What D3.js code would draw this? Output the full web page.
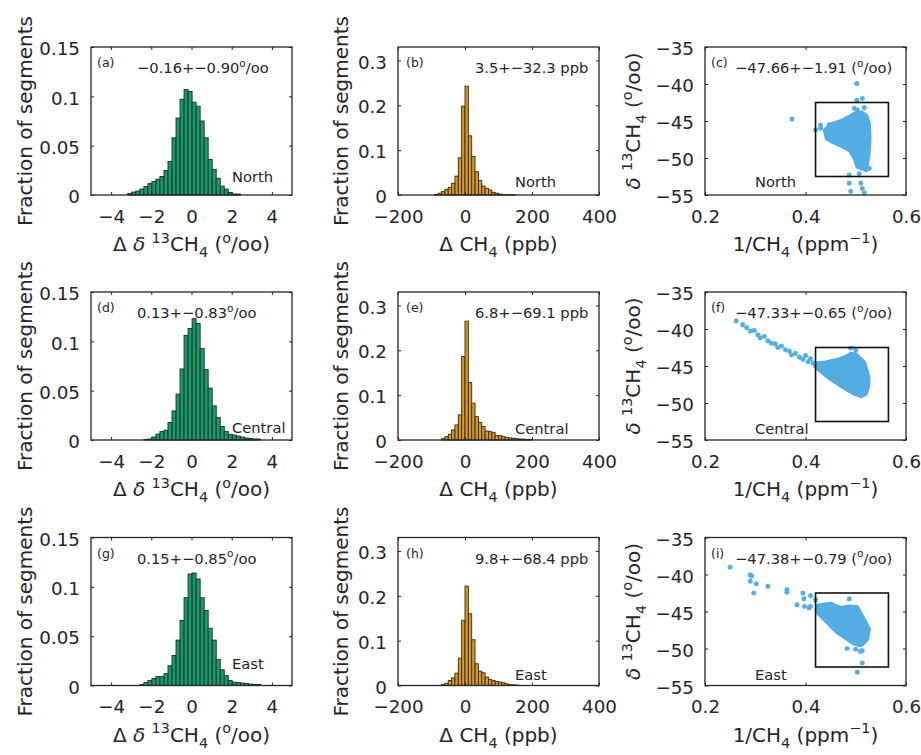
<!DOCTYPE html>
<html>
<head>
<meta charset="utf-8">
<script src="https://cdn.jsdelivr.net/npm/d3@7"></script>
<style>
  body { margin: 0; background: #fff; }
  svg text { font-family: "DejaVu Sans", sans-serif; fill: #262626; }
</style>
</head>
<body>
<svg id="fig" width="921" height="755"></svg>
<script>
// Δδ13CH4 histograms (per mil), bin width 0.2
const isoBinWidth = 0.2;
const isoNorthStart = -3.17;
const isoNorth = [0.0017, 0.003, 0.004, 0.006, 0.0085, 0.0115, 0.0136, 0.016, 0.0187, 0.0248,
  0.034, 0.058, 0.078, 0.097, 0.107, 0.105, 0.094, 0.090, 0.075, 0.058,
  0.036, 0.026, 0.017, 0.009, 0.006, 0.0025, 0.001, 0.001];
const isoCentralStart = -2.37;
const isoCentral = [0.0005, 0.001, 0.003, 0.006, 0.0085, 0.010, 0.0177, 0.0295, 0.0465, 0.072,
  0.106, 0.113, 0.123, 0.118, 0.0927, 0.0713, 0.0526, 0.0346, 0.0227, 0.0136,
  0.0085, 0.0058, 0.005, 0.004, 0.003, 0.002, 0.0015, 0.001, 0.001];
const isoEastStart = -2.57;
const isoEast = [0.001, 0.003, 0.005, 0.007, 0.009, 0.009, 0.012, 0.020, 0.0305, 0.046,
  0.066, 0.089, 0.113, 0.114, 0.108, 0.089, 0.076, 0.058, 0.046, 0.0265,
  0.016, 0.010, 0.005, 0.0034, 0.003, 0.0025, 0.002, 0.0015, 0.001, 0.001];

// ΔCH4 histograms (ppb), bin width 10
const ch4BinWidth = 10;
const ch4NorthStart = -90;
const ch4North = [0.0015, 0.004, 0.0075, 0.0127, 0.017, 0.026, 0.042, 0.083, 0.198, 0.2425,
  0.132, 0.0858, 0.052, 0.032, 0.020, 0.015, 0.011, 0.006, 0.004, 0.002,
  0.001, 0.0005, 0.001, 0.001];
const ch4CentralStart = -70;
const ch4Central = [0.003, 0.0075, 0.0127, 0.0224, 0.0336, 0.056, 0.186, 0.265, 0.128, 0.082,
  0.052, 0.039, 0.030, 0.020, 0.0186, 0.0164, 0.0097, 0.0097, 0.0075, 0.006,
  0.0045, 0.004, 0.003, 0.002, 0.002, 0.001, 0.001];
const ch4EastStart = -70;
const ch4East = [0.002, 0.005, 0.011, 0.017, 0.0276, 0.061, 0.1455, 0.2216, 0.160, 0.102,
  0.0485, 0.032, 0.0284, 0.0187, 0.0134, 0.011, 0.009, 0.0075, 0.006, 0.0037,
  0.002, 0.0015, 0.001];

// Keeling plots: dense cloud outline + scattered points, [1/CH4, δ13CH4]
const cloudNorth = [[0.438,-46.2],[0.452,-45.4],[0.47,-45.0],[0.487,-44.4],[0.500,-43.9],[0.512,-43.8],
  [0.522,-44.3],[0.527,-45.5],[0.528,-47.5],[0.526,-49.5],[0.522,-51.2],[0.514,-51.5],[0.503,-51.2],
  [0.497,-50.0],[0.488,-49.0],[0.472,-48.4],[0.455,-47.9],[0.442,-47.4]];
const pointsNorth = [[0.373,-44.75],[0.42,-46.2],[0.43,-45.56],[0.447,-45.5],[0.445,-47.1],[0.502,-39.94],
  [0.502,-42.2],[0.513,-41.96],[0.497,-43.3],[0.517,-43.2],[0.487,-52.3],[0.487,-53.4],[0.49,-54.5],
  [0.507,-52.1],[0.51,-53.4],[0.513,-54.1],[0.517,-54.7],[0.483,-44.9],[0.503,-43.5],[0.43,-46.0],
  [0.52,-51.6],[0.527,-51.4]];
const cloudCentral = [[0.422,-44.6],[0.44,-44.5],[0.46,-44.2],[0.478,-43.8],[0.49,-43.3],[0.50,-43.4],
  [0.508,-43.9],[0.517,-44.5],[0.522,-45.5],[0.526,-46.6],[0.525,-47.8],[0.52,-48.8],[0.511,-49.1],
  [0.498,-48.8],[0.485,-48.3],[0.468,-47.6],[0.45,-46.8],[0.435,-46.0],[0.424,-45.4]];
const pointsCentral = [[0.262,-38.9],[0.275,-39.4],[0.283,-39.8],[0.29,-40.3],[0.298,-40.2],[0.305,-40.8],
  [0.31,-41.2],[0.318,-41.0],[0.325,-41.6],[0.332,-41.9],[0.34,-42.0],[0.345,-42.5],[0.352,-42.3],
  [0.36,-42.8],[0.368,-43.0],[0.372,-43.5],[0.38,-43.3],[0.388,-43.8],[0.395,-44.1],[0.40,-43.6],
  [0.405,-44.4],[0.41,-44.0],[0.415,-44.6],[0.42,-45.0],[0.49,-42.6],[0.50,-42.9]];
const cloudEast = [[0.423,-44.2],[0.45,-43.9],[0.47,-44.5],[0.487,-44.3],[0.503,-44.4],[0.517,-46.1],
  [0.527,-47.4],[0.523,-48.75],[0.517,-49.2],[0.51,-49.6],[0.497,-49.4],[0.483,-48.75],[0.463,-47.85],
  [0.45,-46.97],[0.437,-46.07],[0.423,-45.17]];
const pointsEast = [[0.25,-39.0],[0.29,-40.05],[0.293,-40.2],[0.29,-40.9],[0.302,-41.25],[0.297,-42.5],
  [0.325,-41.6],[0.363,-42.05],[0.363,-42.4],[0.395,-42.5],[0.397,-43.26],[0.41,-42.85],[0.383,-44.06],
  [0.398,-44.3],[0.407,-44.5],[0.42,-43.4],[0.487,-43.3],[0.483,-50.0],[0.5,-50.1],[0.513,-50.3],
  [0.513,-51.96],[0.503,-53.2],[0.509,-50.4],[0.41,-44.3]];
const boxX = [0.42, 0.565];
const boxY = [-52.5, -42.5];

// ticks
const isoXTicks = [-4, -2, 0, 2, 4], isoYTicks = [0, 0.05, 0.1, 0.15];
const ch4XTicks = [-200, 0, 200, 400], ch4YTicks = [0, 0.1, 0.2, 0.3];
const kXTicks = [0.2, 0.4, 0.6], kYTicks = [-55, -50, -45, -40, -35];

const regions = ["North", "Central", "East"];
const isoStats = ["\u22120.16+\u22120.90", "0.13+\u22120.83", "0.15+\u22120.85"];
const ch4Stats = ["3.5+\u221232.3 ppb", "6.8+\u221269.1 ppb", "9.8+\u221268.4 ppb"];
const kStats = ["\u221247.66+\u22121.91 (", "\u221247.33+\u22120.65 (", "\u221247.38+\u22120.79 ("];

// layout
const colX = [91, 398, 705], rowY = [47, 292, 537.5];
const W = 201, H = 148;
const ink = "#262626";
const svg = d3.select("#fig");
svg.append("rect").attr("width", 921).attr("height", 755).attr("fill", "#fff");

// text with sup/sub parts: [[text, "sup"|"sub"|"it"|undefined], ...]
function rich(sel, parts, size) {
  let shift = 0;
  parts.forEach(([t, kind]) => {
    const small = kind === "sup" || kind === "sub";
    const target = kind === "sup" ? -size * 0.42 : kind === "sub" ? size * 0.3 : 0;
    sel.append("tspan")
      .attr("dy", target - shift)
      .attr("font-size", small ? size * 0.72 : size)
      .attr("font-style", kind === "it" ? "italic" : null)
      .text(t);
    shift = target;
  });
  return sel;
}

const fmt = d => String(d).replace("-", "\u2212");

function drawAxes(g, x, y, xTicks, yTicks) {
  const style = a => a.attr("font-size", 18.3).attr("font-family", "DejaVu Sans").attr("color", ink)
    .call(s => s.select(".domain").remove());
  g.append("g").attr("transform", `translate(0,${H})`)
    .call(d3.axisBottom(x).tickValues(xTicks).tickFormat(fmt).tickSizeInner(-3).tickSizeOuter(0).tickPadding(15))
    .call(style);
  g.append("g")
    .call(d3.axisTop(x).tickValues(xTicks).tickFormat("").tickSizeInner(-3).tickSizeOuter(0))
    .call(style);
  g.append("g")
    .call(d3.axisLeft(y).tickValues(yTicks).tickFormat(fmt).tickSizeInner(-3).tickSizeOuter(0).tickPadding(11))
    .call(style)
    .selectAll("text").attr("dy", "0.42em");
  g.append("g").attr("transform", `translate(${W},0)`)
    .call(d3.axisRight(y).tickValues(yTicks).tickFormat("").tickSizeInner(-3).tickSizeOuter(0))
    .call(style);
  g.append("rect").attr("width", W).attr("height", H)
    .attr("fill", "none").attr("stroke", ink).attr("stroke-width", 1.3);
}

function drawHist(g, x, y, start, width, values, fill, edge) {
  const bins = values.map((v, i) => ({ x0: start + i * width, x1: start + (i + 1) * width, v }));
  g.append("g").selectAll("rect").data(bins).join("rect")
    .attr("x", d => x(d.x0))
    .attr("width", d => x(d.x1) - x(d.x0))
    .attr("y", d => y(d.v))
    .attr("height", d => y(0) - y(d.v))
    .attr("fill", fill)
    .attr("stroke", edge)
    .attr("stroke-width", 0.9);
}

const scatterColor = "#53ade3";
const star = "M-2.6,0H2.6M0,-2.6V2.6M-1.9,-1.9L1.9,1.9M-1.9,1.9L1.9,-1.9";

function drawKeeling(g, x, y, cloud, points) {
  const line = d3.line().x(d => x(d[0])).y(d => y(d[1])).curve(d3.curveLinearClosed);
  g.append("path").datum(cloud).attr("d", line)
    .attr("fill", scatterColor).attr("stroke", scatterColor)
    .attr("stroke-width", 3.5).attr("stroke-linejoin", "round");
  g.append("g").selectAll("path").data(points).join("path")
    .attr("transform", d => `translate(${x(d[0])},${y(d[1])})`)
    .attr("d", star).attr("stroke", scatterColor).attr("stroke-width", 1.3).attr("fill", "none");
  g.append("rect")
    .attr("x", x(boxX[0])).attr("width", x(boxX[1]) - x(boxX[0]))
    .attr("y", y(boxY[1])).attr("height", y(boxY[0]) - y(boxY[1]))
    .attr("fill", "none").attr("stroke", "#111").attr("stroke-width", 1.6);
}

const letters = ["abc", "def", "ghi"];
const isoSets = [[isoNorthStart, isoNorth], [isoCentralStart, isoCentral], [isoEastStart, isoEast]];
const ch4Sets = [[ch4NorthStart, ch4North], [ch4CentralStart, ch4Central], [ch4EastStart, ch4East]];
const kSets = [[cloudNorth, pointsNorth], [cloudCentral, pointsCentral], [cloudEast, pointsEast]];
// region label baseline offset from plot bottom, per row and column
const regionDy = [[-13, -8, -8], [-7, -6, -6], [-17, -6, -6]];

for (let r = 0; r < 3; r++) {
  for (let c = 0; c < 3; c++) {
    const g = svg.append("g").attr("transform", `translate(${colX[c]},${rowY[r]})`);
    let x, y;
    if (c === 0) {
      x = d3.scaleLinear().domain([-5, 5]).range([0, W]);
      y = d3.scaleLinear().domain([0, 0.15]).range([H, 0]);
      drawHist(g, x, y, isoSets[r][0], isoBinWidth, isoSets[r][1], "#1a9a6c", "#17301f");
      drawAxes(g, x, y, isoXTicks, isoYTicks);
    } else if (c === 1) {
      x = d3.scaleLinear().domain([-200, 400]).range([0, W]);
      y = d3.scaleLinear().domain([0, 0.33]).range([H, 0]);
      drawHist(g, x, y, ch4Sets[r][0], ch4BinWidth, ch4Sets[r][1], "#d1992a", "#3a2810");
      drawAxes(g, x, y, ch4XTicks, ch4YTicks);
    } else {
      x = d3.scaleLinear().domain([0.2, 0.6]).range([0, W]);
      y = d3.scaleLinear().domain([-55, -35]).range([H, 0]);
      drawKeeling(g, x, y, kSets[r][0], kSets[r][1]);
      drawAxes(g, x, y, kXTicks, kYTicks);
    }

    // panel letter
    g.append("text").attr("x", c === 1 ? 8 : 6).attr("y", 20).attr("font-size", 12.5)
      .text(`(${letters[r][c]})`);

    // statistics line
    const stat = g.append("text").attr("y", 26);
    if (c === 0) rich(stat.attr("x", 46), [[isoStats[r]], ["o", "sup"], ["/oo"]], 14.7);
    else if (c === 1) rich(stat.attr("x", 77), [[ch4Stats[r]]], 14.7);
    else rich(stat.attr("x", 30), [[kStats[r]], ["o", "sup"], ["/oo)"]], 14.7);

    // region name
    g.append("text").attr("x", [141, 117, 50][c]).attr("y", H + regionDy[r][c])
      .attr("font-size", 14.7).text(regions[r]);

    // axis labels
    const xl = g.append("text").attr("x", W / 2).attr("y", H + 56).attr("text-anchor", "middle");
    if (c === 0) rich(xl, [["\u0394 "], ["\u03b4", "it"], [" "], ["13", "sup"], ["CH"], ["4", "sub"], [" ("], ["o", "sup"], ["/oo)"]], 20);
    else if (c === 1) rich(xl, [["\u0394 CH"], ["4", "sub"], [" (ppb)"]], 20);
    else rich(xl, [["1/CH"], ["4", "sub"], [" (ppm"], ["\u22121", "sup"], [")"]], 20);

    const yl = g.append("text").attr("text-anchor", "middle")
      .attr("transform", `translate(${[-59, -50, -65][c]},${H / 2}) rotate(-90)`);
    if (c < 2) yl.attr("font-size", 20).text("Fraction of segments");
    else rich(yl, [["\u03b4", "it"], [" "], ["13", "sup"], ["CH"], ["4", "sub"], [" ("], ["o", "sup"], ["/oo)"]], 20);
  }
}
</script>
</body>
</html>
